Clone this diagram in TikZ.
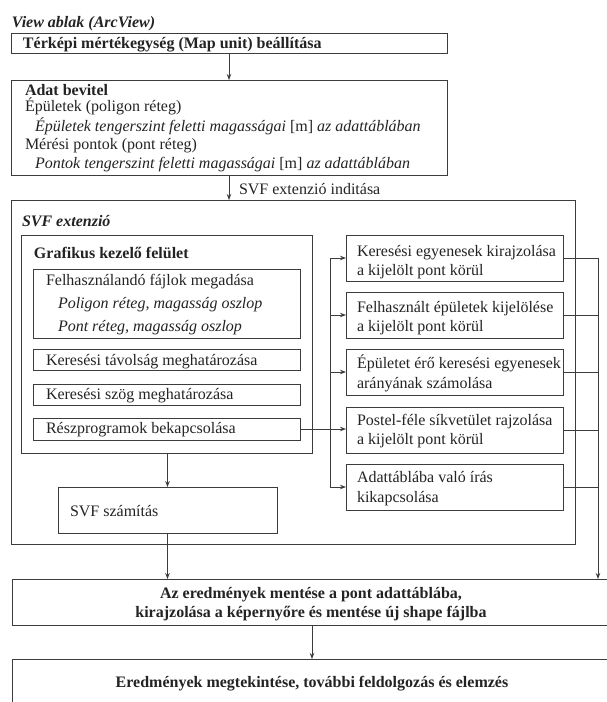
\documentclass[tikz,border=0pt]{standalone}
\usepackage{fontspec}
\setmainfont{Liberation Serif}
\usetikzlibrary{arrows.meta}

\definecolor{ink}{RGB}{35,35,35}
\definecolor{rule}{RGB}{60,60,60}

\tikzset{
  frame/.style={draw=rule, line width=1pt, anchor=north west, inner sep=0pt, outer sep=0pt},
  txt/.style={anchor=base west, inner sep=0pt, outer sep=0pt, text=ink, font=\fontsize{16}{19}\selectfont},
  ctxt/.style={txt, anchor=base},
  flow/.style={draw=rule, line width=0.9pt, -{Stealth[length=6pt,width=4.5pt]}},
  link/.style={draw=rule, line width=0.9pt},
}

\begin{document}
\begin{tikzpicture}[x=1pt,y=-1pt]
\useasboundingbox (0,0) rectangle (607,702);
\clip (0,0) rectangle (607,702);

% top level: ArcView window
\node[txt] (viewtitle) at (12,27) {\bfseries\itshape View ablak (ArcView)};

\node[frame, minimum width=436pt, minimum height=20pt] (unit) at (11,33) {};
\node[txt] (unitT) at (23,48) {\bfseries Térképi mértékegység (Map unit) beállítása};

\node[frame, minimum width=436pt, minimum height=95pt] (input) at (11,80) {};
\node[txt] (inA) at (25,95) {\bfseries Adat bevitel};
\node[txt] (inB) at (25,111) {Épületek (poligon réteg)};
\node[txt] (inC) at (35,131) {\itshape Épületek tengerszint feletti magasságai \upshape[m] \itshape az adattáblában};
\node[txt] (inD) at (25,149) {Mérési pontok (pont réteg)};
\node[txt] (inE) at (35,168) {\itshape Pontok tengerszint feletti magasságai \upshape[m] \itshape az adattáblában};

% SVF extension
\node[frame, minimum width=564pt, minimum height=344pt] (ext) at (11,200) {};
\node[txt] (extT) at (22,226) {\bfseries\itshape SVF extenzió};
\node[txt] (startT) at (239,194) {SVF extenzió inditása};

% graphical user interface
\node[frame, minimum width=291pt, minimum height=218pt] (gui) at (21,235) {};
\node[txt] (guiT) at (34,258) {\bfseries Grafikus kezelő felület};

\node[frame, minimum width=267pt, minimum height=69pt] (files) at (33,269) {};
\node[txt] (filesA) at (46,285) {Felhasználandó fájlok megadása};
\node[txt] (filesB) at (58,308) {\itshape Poligon réteg, magasság oszlop};
\node[txt] (filesC) at (58,331) {\itshape Pont réteg, magasság oszlop};

\node[frame, minimum width=267pt, minimum height=21pt] (dist) at (33,349) {};
\node[txt] (distT) at (46,365) {Keresési távolság meghatározása};

\node[frame, minimum width=267pt, minimum height=21pt] (angle) at (33,384) {};
\node[txt] (angleT) at (46,399) {Keresési szög meghatározása};

\node[frame, minimum width=267pt, minimum height=22pt] (subs) at (33,418) {};
\node[txt] (subsT) at (46,433) {Részprogramok bekapcsolása};

% sub-programs
\node[frame, minimum width=217pt, minimum height=46pt] (r1) at (346,235) {};
\node[txt] (r1a) at (357,256) {Keresési egyenesek kirajzolása};
\node[txt] (r1b) at (357,275) {a kijelölt pont körül};

\node[frame, minimum width=217pt, minimum height=46pt] (r2) at (346,292) {};
\node[txt] (r2a) at (357,312) {Felhasznált épületek kijelölése};
\node[txt] (r2b) at (357,331) {a kijelölt pont körül};

\node[frame, minimum width=217pt, minimum height=46pt] (r3) at (346,349) {};
\node[txt] (r3a) at (357,368) {Épületet érő keresési egyenesek};
\node[txt] (r3b) at (357,388) {arányának számolása};

\node[frame, minimum width=217pt, minimum height=46pt] (r4) at (346,407) {};
\node[txt] (r4a) at (357,425) {Postel-féle síkvetület rajzolása};
\node[txt] (r4b) at (357,444) {a kijelölt pont körül};

\node[frame, minimum width=217pt, minimum height=46pt] (r5) at (346,464) {};
\node[txt] (r5a) at (357,482) {Adattáblába való írás};
\node[txt] (r5b) at (357,502) {kikapcsolása};

% SVF computation
\node[frame, minimum width=219pt, minimum height=46pt] (svf) at (58,487) {};
\node[txt] (svfT) at (70,516) {SVF számítás};

% results
\node[frame, minimum width=620pt, minimum height=46pt] (save) at (12,579) {};
\node[ctxt] (saveA) at (311,598) {\bfseries Az eredmények mentése a pont adattáblába,};
\node[ctxt] (saveB) at (311,617) {\bfseries kirajzolása a képernyőre és mentése új shape fájlba};

\node[frame, minimum width=620pt, minimum height=80pt] (view) at (12,659) {};
\node[ctxt] (viewT) at (312,687) {\bfseries Eredmények megtekintése, további feldolgozás és elemzés};

% connectors
\coordinate (busL) at (330,0);
\coordinate (busR) at (598,0);
\coordinate (mid) at (312,0);

\draw[flow] (unit.south) -- (input.north);
\draw[flow] (input.south) -- (input.south |- ext.north);

\draw[flow] (subs.east) -- (subs.east -| r4.west);
\draw[link] (busL |- r1.west) -- (busL |- r5.west);
\foreach \r in {r1,r2,r3,r5}
  \draw[flow] (busL |- \r.west) -- (\r.west);

\foreach \r in {r1,r2,r3,r4,r5}
  \draw[link] (\r.east) -- (busR |- \r.east);
\draw[flow] (busR |- r1.east) -- (busR |- save.north);

\draw[flow] (svf.north |- gui.south) -- (svf.north);
\draw[flow] (svf.south) -- (svf.south |- save.north);
\draw[flow] (mid |- save.south) -- (mid |- view.north);
\end{tikzpicture}
\end{document}
